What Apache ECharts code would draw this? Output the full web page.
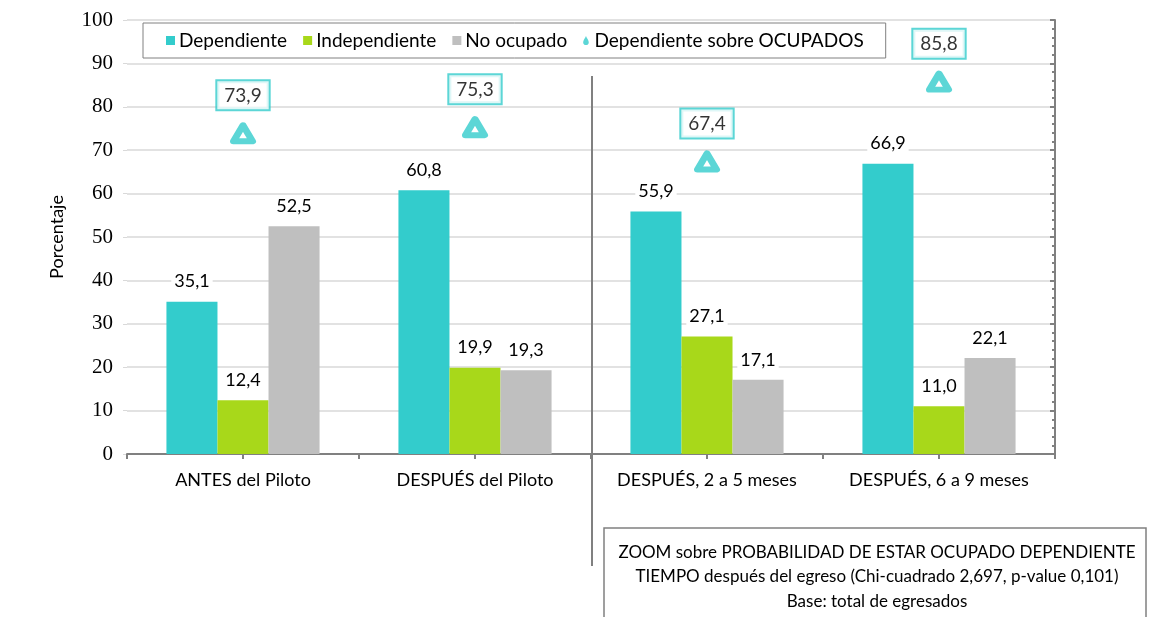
<!DOCTYPE html>
<html>
<head>
<meta charset="utf-8">
<script src="https://cdn.jsdelivr.net/npm/echarts@6/dist/echarts.min.js"></script>
<style>
  html, body { margin: 0; padding: 0; background: #fff; }
  #chart { width: 1151px; height: 617px; }
</style>
</head>
<body>
<div id="chart"></div>
<script>
// datos del grafico
var categorias = ['ANTES del Piloto', 'DESPUÉS del Piloto', 'DESPUÉS, 2 a 5 meses', 'DESPUÉS, 6 a 9 meses'];
var dependiente = [35.1, 60.8, 55.9, 66.9];
var independiente = [12.4, 19.9, 27.1, 11.0];
var noOcupado = [52.5, 19.3, 17.1, 22.1];
var depSobreOcupados = [73.9, 75.3, 67.4, 85.8];
var yTicks = [0, 10, 20, 30, 40, 50, 60, 70, 80, 90, 100];
var notaZoom = [
  'ZOOM sobre PROBABILIDAD DE ESTAR OCUPADO DEPENDIENTE',
  'TIEMPO después del egreso (Chi-cuadrado 2,697, p-value 0,101)',
  'Base: total de egresados'
];

var FUENTE = 'Lato, "Open Sans", sans-serif';
var TEAL = '#33CCCC', VERDE = '#A8D81A', GRIS = '#BFBFBF';

function coma(v) { return v.toFixed(1).replace('.', ','); } // decimal con coma

var myChart = echarts.init(document.getElementById('chart'));

var etiquetaBarra = {
  show: true,
  position: 'top',
  distance: 9,
  fontFamily: FUENTE,
  fontSize: 18,
  color: '#000',
  backgroundColor: '#fff',
  padding: [2, 3],
  formatter: function (p) { return coma(p.value); }
};

var gota = 'path://M5,0 C6,3 10,8 10,11 A5,5 0 0 1 0,11 C0,8 4,3 5,0 Z';

var option = {
  animation: false,
  textStyle: { fontFamily: FUENTE },
  grid: { left: 127, right: 96, top: 20, bottom: 163 },
  legend: {
    left: 143,
    top: 23,
    padding: [8, 22, 8, 23],
    itemGap: 16,
    itemWidth: 9,
    itemHeight: 9,
    borderColor: '#808080',
    borderWidth: 1,
    backgroundColor: '#fff',
    textStyle: { fontFamily: FUENTE, fontSize: 19, color: '#000', padding: [0, 0, 0, -1] },
    data: [
      { name: 'Dependiente', icon: 'rect' },
      { name: 'Independiente', icon: 'rect' },
      { name: 'No ocupado', icon: 'rect' },
      { name: 'Dependiente sobre OCUPADOS', icon: gota, itemWidth: 13, itemHeight: 16, itemStyle: { color: TEAL, borderWidth: 0 } }
    ]
  },
  xAxis: [
    {
      type: 'category',
      data: categorias,
      axisLine: { lineStyle: { color: '#808080', width: 2 } },
      axisTick: { show: false },
      axisLabel: { interval: 0, fontFamily: FUENTE, fontSize: 18, color: '#000', margin: 17 }
    },
    {
      // marcas del eje x (limites y centros de categoria)
      type: 'value',
      position: 'bottom',
      min: 0, max: 8, interval: 1,
      axisLine: { show: false },
      axisTick: { show: true, length: 5, lineStyle: { color: '#808080', width: 2 } },
      axisLabel: { show: false },
      splitLine: { show: false }
    }
  ],
  yAxis: [
    {
      type: 'value',
      min: 0, max: 100, interval: 10,
      name: 'Porcentaje',
      nameLocation: 'middle',
      nameGap: 61,
      nameRotate: 90,
      nameTextStyle: { fontFamily: FUENTE, fontSize: 18, color: '#000' },
      axisLine: { show: false },
      axisTick: { show: true, length: 4, lineStyle: { color: '#D9D9D9' } },
      axisLabel: {
        fontFamily: '"Liberation Serif", "DejaVu Serif", serif',
        fontSize: 21, color: '#000', margin: 14,
        formatter: function (v) { return yTicks.indexOf(v) >= 0 ? String(v) : ''; }
      },
      splitLine: { lineStyle: { color: '#D9D9D9', width: 1.5 } }
    },
    {
      type: 'value',
      position: 'right',
      min: 0, max: 100, interval: 10,
      axisLine: { show: true, lineStyle: { color: '#808080', width: 2 } },
      axisTick: { show: true, inside: true, length: 5, lineStyle: { color: '#808080', width: 2 } },
      minorTick: { show: true, splitNumber: 5, length: 3, lineStyle: { color: '#808080', width: 2 } },
      axisLabel: { show: false },
      splitLine: { show: false }
    }
  ],
  series: [
    {
      name: 'Dependiente', type: 'bar', data: dependiente,
      barGap: '0%', barCategoryGap: '34%',
      itemStyle: { color: TEAL }, label: etiquetaBarra, z: 2
    },
    {
      name: 'Independiente', type: 'bar', data: independiente,
      itemStyle: { color: VERDE }, label: etiquetaBarra, z: 2
    },
    {
      name: 'No ocupado', type: 'bar', data: noOcupado,
      itemStyle: { color: GRIS }, label: etiquetaBarra, z: 2
    },
    {
      name: 'Dependiente sobre OCUPADOS', type: 'scatter', data: depSobreOcupados,
      symbol: 'triangle',
      symbolSize: [19, 16],
      itemStyle: { color: '#fff', borderColor: TEAL, borderWidth: 6.5, borderJoin: 'round' },
      label: {
        show: true,
        position: 'top',
        distance: 13,
        fontFamily: FUENTE,
        fontSize: 19,
        color: '#000',
        backgroundColor: '#fff',
        borderColor: TEAL,
        borderWidth: 2,
        padding: [5, 7, 4, 7],
        formatter: function (p) { return coma(p.value); }
      },
      z: 4
    }
  ],
  graphic: [
    {
      // separador vertical del zoom
      type: 'line',
      shape: { x1: 592, y1: 76, x2: 592, y2: 566 },
      style: { stroke: '#808080', lineWidth: 2 },
      z: 10
    },
    {
      type: 'rect',
      shape: { x: 604, y: 528, width: 542, height: 100 },
      style: { fill: '#fff', stroke: '#808080', lineWidth: 1.5 },
      z: 10
    },
    {
      type: 'text',
      x: 877, y: 540,
      style: {
        text: notaZoom.join('\n'),
        textAlign: 'center',
        textVerticalAlign: 'top',
        font: '17px ' + FUENTE,
        lineHeight: 24.5,
        fill: '#000'
      },
      z: 11
    }
  ]
};

myChart.setOption(option);
</script>
</body>
</html>
